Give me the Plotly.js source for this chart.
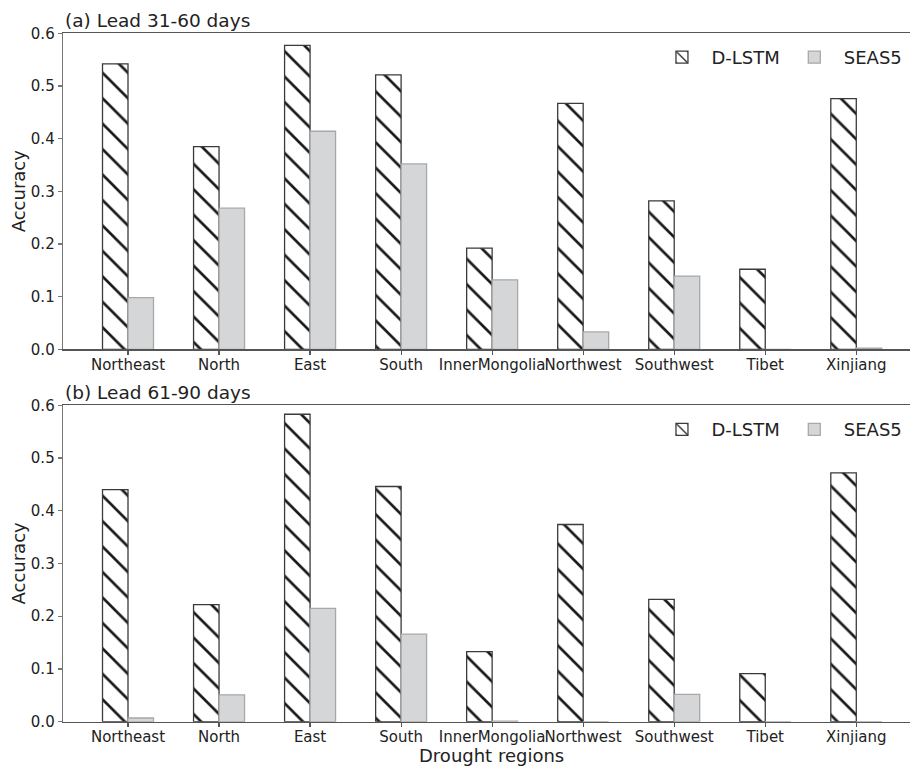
<!DOCTYPE html>
<html><head><meta charset="utf-8">
<script src="https://cdn.plot.ly/plotly-3.0.1.min.js"></script>
<style>html,body{margin:0;padding:0;background:#fff;overflow:hidden}</style>
</head><body><div id="chart" style="width:910px;height:766px"></div>
<script>
const regions = ['Northeast','North','East','South','InnerMongolia','Northwest','Southwest','Tibet','Xinjiang'];
const dlstmA = [0.542,0.385,0.577,0.521,0.192,0.467,0.282,0.152,0.476];
const seas5A = [0.098,0.268,0.414,0.352,0.132,0.033,0.139,0.0,0.002];
const dlstmB = [0.440,0.222,0.583,0.446,0.133,0.374,0.232,0.091,0.472];
const seas5B = [0.007,0.051,0.215,0.166,0.001,0.0,0.052,0.0,0.0];
const seriesNames = ['D-LSTM','SEAS5'];
const panelTitles = ['(a) Lead 31-60 days','(b) Lead 61-90 days'];
const yTickVals = [0,0.1,0.2,0.3,0.4,0.5,0.6];

const FONT = 'DejaVu Sans, sans-serif';
const TXT = '#222';
const BIG = 18;
const dlstmMarker = {color:'white', line:{color:'#3a3a3a', width:1.3},
  pattern:{shape:'\\', fgcolor:'#1a1a1a', bgcolor:'white', size:18, solidity:0.15, fillmode:'replace'}};
const seasMarker = {color:'#d5d6d8', line:{color:'#a8a8a8', width:1.3}};

const traces = [
  {type:'bar', name:seriesNames[0], x:regions, y:dlstmA, xaxis:'x', yaxis:'y', marker:dlstmMarker, legend:'legend'},
  {type:'bar', name:seriesNames[1], x:regions, y:seas5A, xaxis:'x', yaxis:'y', marker:seasMarker, legend:'legend'},
  {type:'bar', name:seriesNames[0], x:regions, y:dlstmB, xaxis:'x2', yaxis:'y2', marker:dlstmMarker, legend:'legend2'},
  {type:'bar', name:seriesNames[1], x:regions, y:seas5B, xaxis:'x2', yaxis:'y2', marker:seasMarker, legend:'legend2'}
];

const W = 910, H = 766, L = 63;
const topDom = [(H-349.3)/H, (H-33.3)/H];
const botDom = [(H-721.7)/H, (H-405.3)/H];

function xax(anchor){
  return {anchor:anchor, type:'category', range:[-0.714, 8.59], showline:true, linecolor:'#555', linewidth:1.3,
    mirror:true, ticks:'outside', ticklen:4, tickcolor:'#555', tickwidth:1.2, showgrid:false, zeroline:false,
    tickangle:0, automargin:false, ticklabelstandoff:-3, tickfont:{family:FONT, size:15, color:TXT}, fixedrange:true};
}
function yax(anchor, dom){
  return {anchor:anchor, domain:dom, range:[0,0.6], tickvals:yTickVals, tickformat:'.1f', showline:true,
    linecolor:'#777', linewidth:1.3, ticks:'outside', ticklen:4, tickcolor:'#777', tickwidth:1.2,
    automargin:false, showgrid:false, zeroline:false, tickfont:{family:FONT, size:15, color:TXT}};
}
function leg(y){
  return {orientation:'h', x:0.997, xanchor:'right', y:y, yanchor:'middle', bgcolor:'rgba(0,0,0,0)',
    font:{family:FONT, size:BIG, color:TXT}, itemwidth:49, traceorder:'normal'};
}

const layout = {
  width:W, height:H, margin:{l:L, r:0, t:0, b:0}, paper_bgcolor:'white', plot_bgcolor:'white',
  barmode:'group', bargap:0.44, bargroupgap:0, showlegend:true,
  font:{family:FONT, color:TXT},
  xaxis:xax('y'), yaxis:yax('x', topDom),
  xaxis2:xax('y2'), yaxis2:yax('x2', botDom),
  legend:leg((H-57.5)/H), legend2:leg((H-429.6)/H),
  annotations:[
    {text:panelTitles[0], xref:'paper', yref:'paper', x:0, y:topDom[1], xanchor:'left', yanchor:'bottom', showarrow:false, font:{family:FONT, size:18.5, color:TXT}},
    {text:panelTitles[1], xref:'paper', yref:'paper', x:0, y:botDom[1], xanchor:'left', yanchor:'bottom', showarrow:false, font:{family:FONT, size:18.5, color:TXT}},
    {text:'Accuracy', xref:'paper', yref:'paper', x:(18-L)/(W-L), y:(topDom[0]+topDom[1])/2, xanchor:'center', yanchor:'middle', textangle:-90, showarrow:false, font:{family:FONT, size:BIG, color:TXT}},
    {text:'Accuracy', xref:'paper', yref:'paper', x:(18-L)/(W-L), y:(botDom[0]+botDom[1])/2, xanchor:'center', yanchor:'middle', textangle:-90, showarrow:false, font:{family:FONT, size:BIG, color:TXT}},
    {text:'Drought regions', xref:'paper', yref:'paper', x:(491-L)/(W-L), y:(H-755.5)/H, xanchor:'center', yanchor:'middle', showarrow:false, font:{family:FONT, size:BIG, color:TXT}}
  ]
};

Plotly.newPlot('chart', traces, layout, {displayModeBar:false, staticPlot:true});
</script></body></html>
